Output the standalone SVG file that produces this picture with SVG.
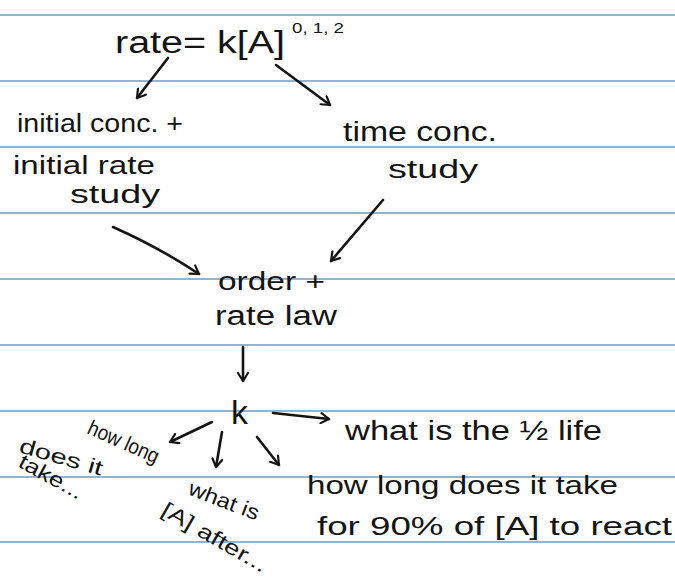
<svg xmlns="http://www.w3.org/2000/svg" width="675" height="581" viewBox="0 0 675 581">
<defs>
<style>
.rule{stroke:#6f9bc2;stroke-width:1.6;fill:none}
.t{font-family:"Liberation Sans","DejaVu Sans",sans-serif;fill:#141414;font-size:25px}
.s{font-size:21px}
.c{stroke:#141414;stroke-width:2.6;fill:none;stroke-linecap:round;stroke-linejoin:round}
</style>
<marker id="ah" viewBox="0 0 12 12" refX="10" refY="6" markerWidth="12" markerHeight="12" markerUnits="userSpaceOnUse" orient="auto">
<path d="M2,1 L10,6 L2,11" fill="none" stroke="#141414" stroke-width="2.2" stroke-linecap="round" stroke-linejoin="round"/>
</marker>
</defs>
<rect width="675" height="581" fill="#ffffff"/>
<g id="paper">
<line class="rule" x1="0" y1="15" x2="675" y2="15"/>
<line class="rule" x1="0" y1="81" x2="675" y2="81"/>
<line class="rule" x1="0" y1="147" x2="675" y2="147"/>
<line class="rule" x1="0" y1="213" x2="675" y2="213"/>
<line class="rule" x1="0" y1="279" x2="675" y2="279"/>
<line class="rule" x1="0" y1="345" x2="675" y2="345"/>
<line class="rule" x1="0" y1="411" x2="675" y2="411"/>
<line class="rule" x1="0" y1="477" x2="675" y2="477"/>
<line class="rule" x1="0" y1="542" x2="675" y2="542"/>
</g>
<g id="connectors">
<path class="c" d="M168,58 L137,98" marker-end="url(#ah)"/>
<path class="c" d="M276,65 L330,105" marker-end="url(#ah)"/>
<path class="c" d="M113,227 Q160,248 199,274" marker-end="url(#ah)"/>
<path class="c" d="M383,200 L331,261" marker-end="url(#ah)"/>
<path class="c" d="M243,347 L243,381" marker-end="url(#ah)"/>
<path class="c" d="M212,422 L170,442" marker-end="url(#ah)"/>
<path class="c" d="M222,432 L216,467" marker-end="url(#ah)"/>
<path class="c" d="M257,437 L279,465" marker-end="url(#ah)"/>
<path class="c" d="M273,413 L329,419" marker-end="url(#ah)"/>
</g>
<g id="node-rate">
<text class="t" x="115" y="53" style="font-size:31px" textLength="170" lengthAdjust="spacingAndGlyphs">rate= k[A]</text>
<text class="t" x="292" y="33" style="font-size:15px" textLength="52" lengthAdjust="spacingAndGlyphs">0, 1, 2</text>
</g>
<g id="node-initial">
<text class="t" x="17" y="132" textLength="166" lengthAdjust="spacingAndGlyphs">initial conc. +</text>
<text class="t" x="13" y="174" textLength="142" lengthAdjust="spacingAndGlyphs">initial rate</text>
<text class="t" x="70" y="203" textLength="90" lengthAdjust="spacingAndGlyphs">study</text>
</g>
<g id="node-time">
<text class="t" x="343" y="141" style="font-size:27px" textLength="154" lengthAdjust="spacingAndGlyphs">time conc.</text>
<text class="t" x="388" y="178" textLength="90" lengthAdjust="spacingAndGlyphs">study</text>
</g>
<g id="node-order">
<text class="t" x="218" y="290" textLength="107" lengthAdjust="spacingAndGlyphs">order +</text>
<text class="t" x="215" y="325" style="font-size:27px" textLength="122" lengthAdjust="spacingAndGlyphs">rate law</text>
</g>
<g id="node-k">
<text class="t" x="231" y="424" style="font-size:34px">k</text>
</g>
<g id="node-halflife">
<text class="t" x="345" y="440" style="font-size:27px" textLength="257" lengthAdjust="spacingAndGlyphs">what is the ½ life</text>
</g>
<g id="node-90">
<text class="t" x="307" y="494" style="font-size:26px" textLength="311" lengthAdjust="spacingAndGlyphs">how long does it take</text>
<text class="t" x="317" y="535" style="font-size:26px" textLength="355" lengthAdjust="spacingAndGlyphs">for 90% of [A] to react</text>
</g>
<g id="node-howlong">
<text class="t s" transform="translate(86,433) rotate(24)" textLength="76" lengthAdjust="spacingAndGlyphs">how long</text>
<text class="t s" transform="translate(18,452) rotate(16)" textLength="86" lengthAdjust="spacingAndGlyphs">does it</text>
<text class="t s" transform="translate(17,466) rotate(29)" textLength="70" lengthAdjust="spacingAndGlyphs">take...</text>
</g>
<g id="node-after">
<text class="t s" transform="translate(187,494) rotate(21)" textLength="74" lengthAdjust="spacingAndGlyphs">what is</text>
<text class="t s" transform="translate(160,514) rotate(30)" textLength="118" lengthAdjust="spacingAndGlyphs">[A] after...</text>
</g>
</svg>
